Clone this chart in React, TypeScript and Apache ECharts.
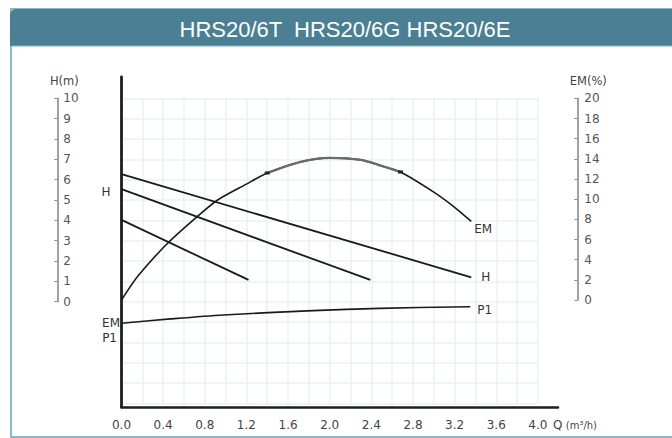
import React, { useEffect, useRef } from "react";
import * as echarts from "echarts";

// ---- data ----
const TITLE = "HRS20/6T  HRS20/6G HRS20/6E";

// Q axis (m³/h)
const Q_MIN = 0;
const Q_MAX = 4;
const Q_STEP = 0.4;

// H axis (m) and EM axis (%)
const H_MIN = 0;
const H_MAX = 10;
const H_STEP = 1;
const EM_MIN = 0;
const EM_MAX = 20;
const EM_STEP = 2;

// Head curves (three speeds)
const hHighQ = [0, 3.36];
const hHighH = [6.27, 1.2];
const hMidQ = [0, 2.39];
const hMidH = [5.53, 1.07];
const hLowQ = [0, 1.22];
const hLowH = [4.02, 1.07];

// Efficiency curve
const emQ = [0, 0.16, 0.45, 0.73, 0.92, 1.2, 1.4, 1.72, 2.0, 2.3, 2.5, 2.68, 3.0, 3.2, 3.36];
const emVal = [0, 2.4, 5.7, 8.3, 9.9, 11.5, 12.6, 13.7, 14.1, 13.9, 13.3, 12.7, 10.7, 9.2, 7.8];

// the grey, slightly heavier arc section near the efficiency peak
const EM_ARC_FROM = 1.4;
const EM_ARC_TO = 2.68;

// P1 curve (no scale printed: relative height in % of the plot frame)
const p1Q = [0, 0.47, 0.98, 1.84, 2.48, 3.35];
const p1Rel = [25.4, 26.7, 27.9, 29.2, 29.9, 30.4];

const zip = (xs: number[], ys: number[]) => xs.map((x, i) => [x, ys[i]]);

const AXIS_FONT = "DejaVu Sans";

export default function App() {
  const ref = useRef<HTMLDivElement>(null);

  useEffect(() => {
    if (!ref.current) return;
    const chart = echarts.init(ref.current, null, { renderer: "svg" });

    // layout (pixels)
    const x0 = 121.5; // Q = 0
    const pxPerQ = 104.1;
    const yH0 = 301.7; // H = 0
    const pxPerH = 20.34;
    const yEM0 = 300; // EM = 0
    const pxPerEM = 10.08;
    const frameTop = 77;
    const frameBottom = 407;
    const frameRight = 558;
    const frameH = frameBottom - frameTop;

    const hAxisMin = -(frameBottom - yH0) / pxPerH;
    const hAxisMax = hAxisMin + frameH / pxPerH;
    const emAxisMin = -(frameBottom - yEM0) / pxPerEM;
    const emAxisMax = emAxisMin + frameH / pxPerEM;
    const qFrameMax = (frameRight - x0) / pxPerQ;

    const gridBottomH = -5;

    const labelStyle = { fontFamily: AXIS_FONT, fontSize: 12, color: "#333" };

    const emPts = zip(emQ, emVal);
    const emArc = emPts.filter((p) => p[0] >= EM_ARC_FROM - 1e-9 && p[0] <= EM_ARC_TO + 1e-9);
    const lastArc = emArc.length - 1;

    const option: any = {
      animation: false,
      backgroundColor: "#ffffff",
      grid: [
        // 0: main frame
        { left: x0, top: frameTop, width: qFrameMax * pxPerQ, height: frameH },
        // 1: light grid
        {
          left: x0,
          top: yH0 - H_MAX * pxPerH,
          width: (Q_MAX - Q_MIN) * pxPerQ,
          height: (H_MAX - gridBottomH) * pxPerH,
        },
        // 2: H scale on the left
        { left: 57.3, top: yH0 - H_MAX * pxPerH, width: 2, height: H_MAX * pxPerH },
        // 3: EM scale on the right
        { left: 577.3, top: yEM0 - EM_MAX * pxPerEM, width: 2, height: EM_MAX * pxPerEM },
      ],
      xAxis: [
        {
          gridIndex: 0,
          type: "value",
          min: Q_MIN,
          max: qFrameMax,
          interval: Q_STEP,
          axisLine: { onZero: false, lineStyle: { color: "#1e1e1e", width: 2.6 } },
          axisTick: { show: false },
          splitLine: { show: false },
          axisLabel: {
            showMaxLabel: false,
            margin: 12,
            fontFamily: AXIS_FONT,
            fontSize: 12,
            color: "#444",
            formatter: (v: number) => (v <= Q_MAX + 1e-6 ? v.toFixed(1) : ""),
          },
        },
        {
          gridIndex: 1,
          type: "value",
          min: Q_MIN,
          max: Q_MAX,
          interval: 0.2,
          axisLine: { show: false },
          axisTick: { show: false },
          axisLabel: { show: false },
          splitLine: { show: true, lineStyle: { color: "#eaf0f2", width: 1.5 } },
        },
        { gridIndex: 2, type: "value", show: false },
        { gridIndex: 3, type: "value", show: false },
      ],
      yAxis: [
        {
          gridIndex: 0,
          type: "value",
          min: hAxisMin,
          max: hAxisMax,
          axisLine: { show: true, onZero: false, lineStyle: { color: "#1e1e1e", width: 2.8 } },
          axisTick: { show: false },
          axisLabel: { show: false },
          splitLine: { show: false },
        },
        { gridIndex: 0, type: "value", min: emAxisMin, max: emAxisMax, show: false },
        { gridIndex: 0, type: "value", min: 0, max: 100, show: false },
        {
          gridIndex: 1,
          type: "value",
          min: gridBottomH,
          max: H_MAX,
          interval: H_STEP,
          axisLine: { show: false },
          axisTick: { show: false },
          axisLabel: { show: false },
          splitLine: { show: true, lineStyle: { color: "#eaf0f2", width: 1.5 } },
        },
        {
          gridIndex: 2,
          type: "value",
          position: "right",
          min: H_MIN,
          max: H_MAX,
          interval: H_STEP,
          name: "H(m)",
          nameLocation: "end",
          nameGap: 11,
          nameTextStyle: { ...labelStyle, fontSize: 11.5, color: "#444", padding: [0, 0, 0, 14] },
          axisLine: { show: true, lineStyle: { color: "#8a8a8a", width: 1.6 } },
          axisTick: { show: true, inside: true, length: 3, lineStyle: { color: "#8a8a8a" } },
          axisLabel: { margin: 4, ...labelStyle, color: "#555" },
          splitLine: { show: false },
        },
        {
          gridIndex: 3,
          type: "value",
          position: "right",
          min: EM_MIN,
          max: EM_MAX,
          interval: EM_STEP,
          name: "EM(%)",
          nameLocation: "end",
          nameGap: 11,
          nameTextStyle: { ...labelStyle, fontSize: 11.5, color: "#444", padding: [0, 0, 0, 22] },
          axisLine: { show: true, lineStyle: { color: "#8a8a8a", width: 1.6 } },
          axisTick: { show: true, inside: true, length: 3, lineStyle: { color: "#8a8a8a" } },
          axisLabel: { margin: 5, ...labelStyle, color: "#555" },
          splitLine: { show: false },
        },
      ],
      series: [
        {
          name: "H high",
          type: "line",
          xAxisIndex: 0,
          yAxisIndex: 0,
          data: zip(hHighQ, hHighH),
          symbol: "none",
          lineStyle: { color: "#1a1a1a", width: 1.8 },
          endLabel: { show: true, formatter: "H", distance: 10, ...labelStyle },
        },
        {
          name: "H mid",
          type: "line",
          xAxisIndex: 0,
          yAxisIndex: 0,
          data: zip(hMidQ, hMidH),
          symbol: "none",
          lineStyle: { color: "#1a1a1a", width: 1.8 },
        },
        {
          name: "H low",
          type: "line",
          xAxisIndex: 0,
          yAxisIndex: 0,
          data: zip(hLowQ, hLowH),
          symbol: "none",
          lineStyle: { color: "#1a1a1a", width: 1.8 },
        },
        {
          name: "EM",
          type: "line",
          xAxisIndex: 0,
          yAxisIndex: 1,
          data: emPts,
          smooth: 0.25,
          symbol: "none",
          lineStyle: { color: "#1a1a1a", width: 1.6 },
          endLabel: { show: true, formatter: "EM", distance: 3, offset: [0, 8], ...labelStyle },
        },
        {
          name: "EM peak arc",
          type: "line",
          xAxisIndex: 0,
          yAxisIndex: 1,
          data: emArc,
          smooth: 0.25,
          showSymbol: true,
          symbol: (_v: any, p: any) =>
            p && (p.dataIndex === 0 || p.dataIndex === lastArc) ? "rect" : "none",
          symbolSize: [5, 3],
          itemStyle: { color: "#222" },
          lineStyle: { color: "#6a6a6a", width: 2.4 },
          z: 3,
        },
        {
          name: "P1",
          type: "line",
          xAxisIndex: 0,
          yAxisIndex: 2,
          data: zip(p1Q, p1Rel),
          smooth: 0.3,
          symbol: "none",
          lineStyle: { color: "#1a1a1a", width: 1.6 },
          endLabel: { show: true, formatter: "P1", distance: 7, offset: [0, 3], ...labelStyle },
        },
      ],
      graphic: [
        {
          type: "rect",
          silent: true,
          shape: { x: 11, y: 9, width: 680, height: 428 },
          style: { fill: null, stroke: "#8fb6c4", lineWidth: 2 },
          z: 0,
        },
        {
          type: "rect",
          silent: true,
          shape: { x: 10, y: 9, width: 680, height: 37, r: [6, 0, 0, 0] },
          style: { fill: "#4b7f94" },
          z: 1,
        },
        {
          type: "line",
          silent: true,
          shape: { x1: 12, y1: 46.5, x2: 672, y2: 46.5 },
          style: { stroke: "#b7dfe6", lineWidth: 1.5 },
          z: 1,
        },
        {
          type: "text",
          silent: true,
          x: 345,
          y: 29,
          z: 2,
          style: {
            text: TITLE,
            fill: "#ffffff",
            font: "22px 'Liberation Sans', Arial, sans-serif",
            align: "center",
            verticalAlign: "middle",
          },
        },
        {
          type: "text",
          silent: true,
          x: 106,
          y: 192,
          style: { text: "H", font: `12px '${AXIS_FONT}'`, fill: "#333", align: "center", verticalAlign: "middle" },
        },
        {
          type: "text",
          silent: true,
          x: 120,
          y: 323,
          style: { text: "EM", font: `12px '${AXIS_FONT}'`, fill: "#333", align: "right", verticalAlign: "middle" },
        },
        {
          type: "text",
          silent: true,
          x: 117,
          y: 338,
          style: { text: "P1", font: `12px '${AXIS_FONT}'`, fill: "#333", align: "right", verticalAlign: "middle" },
        },
        {
          type: "text",
          silent: true,
          x: 553,
          y: 425,
          style: {
            text: "{q|Q} {u|(m³/h)}",
            align: "left",
            verticalAlign: "middle",
            rich: {
              q: { fontFamily: AXIS_FONT, fontSize: 12, fill: "#444" },
              u: { fontFamily: AXIS_FONT, fontSize: 10, fill: "#444" },
            },
          },
        },
      ],
    };

    chart.setOption(option);
    return () => chart.dispose();
  }, []);

  return (
    <div
      ref={ref}
      style={{ position: "fixed", left: 0, top: 0, width: 672, height: 438 }}
    />
  );
}
